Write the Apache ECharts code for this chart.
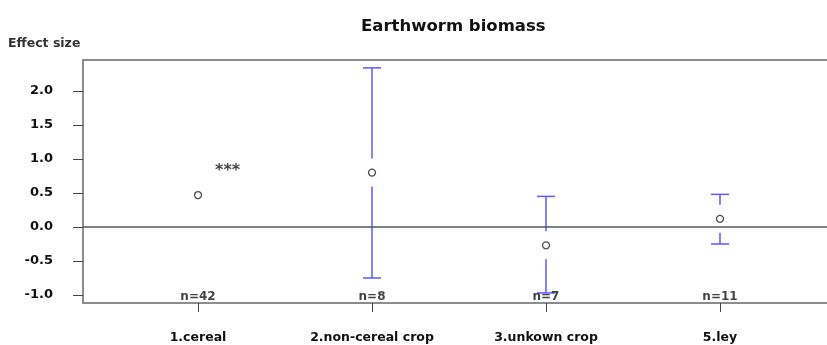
<!DOCTYPE html>
<html>
<head>
<meta charset="utf-8">
<script src="https://cdn.jsdelivr.net/npm/echarts@6/dist/echarts.min.js"></script>
<style>html,body{margin:0;padding:0;background:#fff}#c{width:827px;height:345px}</style>
</head>
<body>
<div id="c"></div>
<script>
// ---- data ----
const categories = ['1.cereal', '2.non-cereal crop', '3.unkown crop', '5.ley'];
const meanValues = [0.47, 0.80, -0.27, 0.12];
const ciUpper = [null, 2.34, 0.45, 0.48];
const ciLower = [null, -0.75, -0.97, -0.25];
const sampleSizes = [42, 8, 7, 11];
const signifLabels = ['***', '', '', ''];
const yTicks = [-1.0, -0.5, 0.0, 0.5, 1.0, 1.5, 2.0];

// ---- chart ----
const FONT = 'DejaVu Sans';
const xPos = categories.map((c, i) => i + 1);
const chart = echarts.init(document.getElementById('c'), null, {renderer: 'canvas'});

const errData = xPos.map((x, i) => [x, meanValues[i], ciUpper[i], ciLower[i]]);
const pointData = xPos.map((x, i) => [x, meanValues[i]]);
const nData = xPos.map((x, i) => ({value: [x, -1.03], n: sampleSizes[i]}));
const starData = xPos.map((x, i) => ({value: [x + 0.17, meanValues[i] + 0.42], s: signifLabels[i]}))
  .filter(d => d.s);

const BORDER = {color: '#8c8c8c', width: 2};
const option = {
  animation: false,
  backgroundColor: '#fff',
  title: [
    {text: 'Earthworm biomass', left: 361, top: 18, padding: 0,
     textStyle: {fontFamily: FONT, fontSize: 16.5, fontWeight: 'bold', color: '#111'}},
    {text: 'Effect size', left: 8, top: 37, padding: 0,
     textStyle: {fontFamily: FONT, fontSize: 12.5, fontWeight: 'bold', color: '#333'}}
  ],
  grid: {left: 83, top: 60, bottom: 42, right: 0, show: false},
  xAxis: [{
    type: 'value', min: 0.339, max: 4.615, position: 'bottom',
    axisLine: {show: true, onZero: false, lineStyle: BORDER},
    splitLine: {show: false},
    axisTick: {show: true, length: 9, customValues: xPos, lineStyle: {color: '#444', width: 1}},
    axisLabel: {customValues: xPos, margin: 28, fontFamily: FONT, fontSize: 12.5, fontWeight: 'bold', color: '#111',
                formatter: v => categories[Math.round(v) - 1] || ''}
  }, {
    type: 'value', min: 0.339, max: 4.615, position: 'top',
    axisLine: {show: true, onZero: false, lineStyle: BORDER},
    splitLine: {show: false}, axisTick: {show: false}, axisLabel: {show: false}
  }],
  yAxis: {
    type: 'value', min: -1.118, max: 2.456, position: 'left',
    axisLine: {show: true, onZero: false, lineStyle: BORDER},
    splitLine: {show: false},
    axisTick: {show: true, length: 10, customValues: yTicks, lineStyle: {color: '#444', width: 1}},
    axisLabel: {customValues: yTicks, margin: 30, fontFamily: FONT, fontSize: 13, fontWeight: 'bold', color: '#111',
                formatter: v => v.toFixed(1)}
  },
  series: [
    {
      type: 'custom', z: 3,
      data: errData,
      renderItem: function (params, api) {
        const x = api.value(0), m = api.value(1), up = api.value(2), lo = api.value(3);
        const children = [];
        const style = {stroke: '#5a5aff', lineWidth: 1.5};
        const gap = 14, cap = 9;
        const pm = api.coord([x, m]);
        if (up != null && !isNaN(up)) {
          const pu = api.coord([x, up]);
          children.push({type: 'line', shape: {x1: pu[0], y1: pu[1], x2: pu[0], y2: pm[1] - gap}, style});
          children.push({type: 'line', shape: {x1: pu[0] - cap, y1: pu[1], x2: pu[0] + cap, y2: pu[1]}, style});
        }
        if (lo != null && !isNaN(lo)) {
          const pl = api.coord([x, lo]);
          children.push({type: 'line', shape: {x1: pl[0], y1: pm[1] + gap, x2: pl[0], y2: pl[1]}, style});
          children.push({type: 'line', shape: {x1: pl[0] - cap, y1: pl[1], x2: pl[0] + cap, y2: pl[1]}, style});
        }
        return {type: 'group', children};
      }
    },
    {
      type: 'scatter', z: 4,
      data: pointData,
      symbol: 'circle', symbolSize: 7,
      itemStyle: {color: 'transparent', borderColor: '#222', borderWidth: 1.3},
      markLine: {
        silent: true, symbol: 'none', label: {show: false},
        lineStyle: {color: '#555', width: 1.5, type: 'solid'},
        data: [{yAxis: 0}]
      }
    },
    {
      type: 'scatter', z: 5,
      data: nData, symbolSize: 0,
      label: {show: true, position: 'inside', formatter: p => 'n=' + p.data.n,
              fontFamily: FONT, fontSize: 12, fontWeight: 'bold', color: '#111'}
    },
    {
      type: 'scatter', z: 5,
      data: starData, symbolSize: 0,
      label: {show: true, position: 'inside', formatter: p => p.data.s,
              fontFamily: FONT, fontSize: 16, fontWeight: 'bold', color: '#111', offset: [0, 4]}
    }
  ]
};
chart.setOption(option);
</script>
</body>
</html>
